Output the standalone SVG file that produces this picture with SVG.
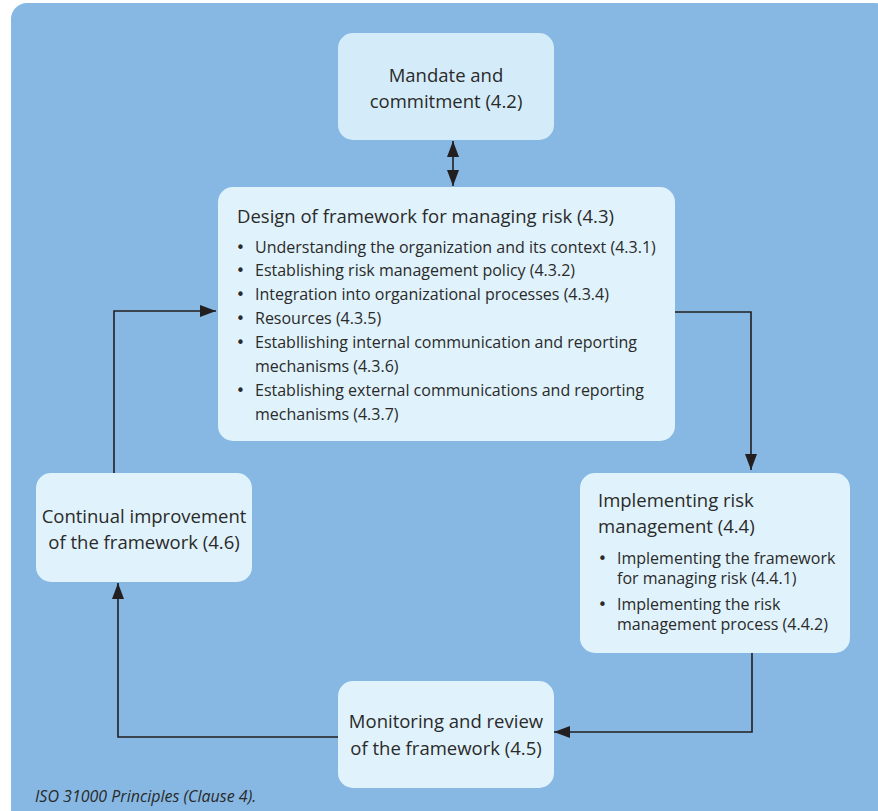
<svg xmlns="http://www.w3.org/2000/svg" width="878" height="811" viewBox="0 0 878 811">
<defs>
<style>
.bg{fill:#86B8E3}
.box{fill:#E0F2FB}
.box2{fill:#D4ECFA}
text{font-family:"Open Sans","Noto Sans","DejaVu Sans",sans-serif;fill:#2a2a2a}
.t{font-size:18.5px}
.b{font-size:16px}
.dot{font-family:"DejaVu Sans",sans-serif;font-size:15px}
.c{font-size:16px;font-style:italic}
.mid{text-anchor:middle}
.ln{fill:none;stroke:#231F20;stroke-width:1.6}
</style>
<marker id="ah" viewBox="0 0 16 12" markerWidth="16" markerHeight="12" refX="16" refY="6" orient="auto" markerUnits="userSpaceOnUse">
<path d="M0,0 L16,6 L0,12 Z" fill="#231F20"/>
</marker>
<marker id="ahs" viewBox="0 0 16 12" markerWidth="16" markerHeight="12" refX="16" refY="6" orient="auto-start-reverse" markerUnits="userSpaceOnUse">
<path d="M0,0 L16,6 L0,12 Z" fill="#231F20"/>
</marker>
</defs>
<rect class="bg" x="11" y="3" width="880" height="830" rx="16"/>
<g id="connectors">
<path class="ln" d="M453,141 V186" marker-start="url(#ahs)" marker-end="url(#ahs)"/>
<path class="ln" d="M675,312 H751 V470" marker-end="url(#ah)"/>
<path class="ln" d="M752,653 V732 H554" marker-end="url(#ah)"/>
<path class="ln" d="M338,737 H118 V583" marker-end="url(#ah)"/>
<path class="ln" d="M114,473 V311 H216" marker-end="url(#ah)"/>
</g>
<g id="mandate">
<rect class="box2" x="338" y="33" width="216" height="107" rx="15"/>
<text class="t mid" x="446" y="82">Mandate and</text>
<text class="t mid" x="446" y="108">commitment (4.2)</text>
</g>
<g id="design">
<rect class="box" x="218" y="187" width="457" height="254" rx="15"/>
<text class="t" x="237" y="223">Design of framework for managing risk (4.3)</text>
<g class="b">
<text class="dot" x="236" y="253">•</text><text x="255" y="253">Understanding the organization and its context (4.3.1)</text>
<text class="dot" x="236" y="276">•</text><text x="255" y="276">Establishing risk management policy (4.3.2)</text>
<text class="dot" x="236" y="300">•</text><text x="255" y="300">Integration into organizational processes (4.3.4)</text>
<text class="dot" x="236" y="324">•</text><text x="255" y="324">Resources (4.3.5)</text>
<text class="dot" x="236" y="348">•</text><text x="255" y="348">Establlishing internal communication and reporting</text>
<text x="255" y="372">mechanisms (4.3.6)</text>
<text class="dot" x="236" y="396">•</text><text x="255" y="396">Establishing external communications and reporting</text>
<text x="255" y="420">mechanisms (4.3.7)</text>
</g>
</g>
<g id="implementing">
<rect class="box" x="580" y="473" width="270" height="180" rx="15"/>
<text class="t" x="598" y="507">Implementing risk</text>
<text class="t" x="598" y="533">management (4.4)</text>
<g class="b">
<text class="dot" x="598" y="564">•</text><text x="617" y="564">Implementing the framework</text>
<text x="617" y="584">for managing risk (4.4.1)</text>
<text class="dot" x="598" y="610">•</text><text x="617" y="610">Implementing the risk</text>
<text x="617" y="630">management process (4.4.2)</text>
</g>
</g>
<g id="monitoring">
<rect class="box" x="338" y="681" width="216" height="107" rx="15"/>
<text class="t mid" x="446" y="728">Monitoring and review</text>
<text class="t mid" x="446" y="755">of the framework (4.5)</text>
</g>
<g id="continual">
<rect class="box" x="36" y="473" width="216" height="109" rx="15"/>
<text class="t mid" x="144" y="523">Continual improvement</text>
<text class="t mid" x="144" y="549">of the framework (4.6)</text>
</g>
<text class="c" x="35" y="802">ISO 31000 Principles (Clause 4).</text>
</svg>
